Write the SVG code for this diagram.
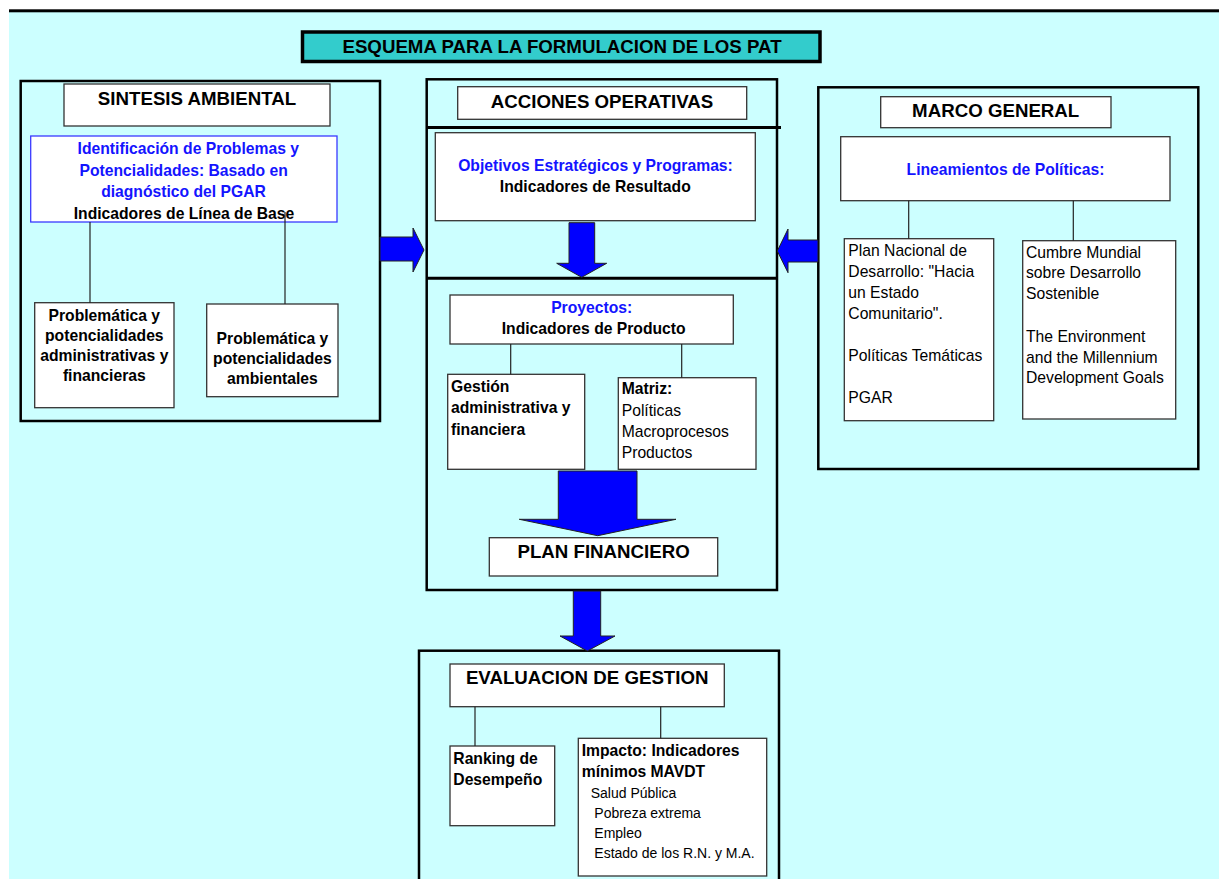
<svg xmlns="http://www.w3.org/2000/svg" width="1219" height="879" viewBox="0 0 1219 879">
<style>
.panel{fill:none;stroke:#000;stroke-width:2.5}
.box{fill:#fff;stroke:#333;stroke-width:1.3}
.bbox{fill:#fff;stroke:#3a3aff;stroke-width:1.3}
.h{font-family:"Liberation Sans",Arial,sans-serif;font-weight:bold;font-size:18.7px;fill:#000}
.b{font-family:"Liberation Sans",Arial,sans-serif;font-weight:bold;font-size:15.7px;fill:#000}
.r{font-family:"Liberation Sans",Arial,sans-serif;font-size:15.7px;fill:#000}
.s{font-family:"Liberation Sans",Arial,sans-serif;font-size:14px;fill:#000}
.blue{fill:#1414ff}
.c{text-anchor:middle}
.arrow{fill:#0000ff;stroke:#222;stroke-width:1}
.ln{stroke:#222;stroke-width:1.2;fill:none}
</style>
<rect x="0" y="0" width="1219" height="879" fill="#fff"/>
<rect x="9" y="12" width="1210" height="867" fill="#ccffff"/>
<rect x="9" y="9.3" width="1210" height="3" fill="#000"/>

<g id="title">
<rect x="302.5" y="32" width="517.5" height="29.5" fill="#33cccc" stroke="#000" stroke-width="3.5"/>
<text class="h c" x="562" y="52.5">ESQUEMA PARA LA FORMULACION DE LOS PAT</text>
</g>

<g id="sintesis-ambiental">
<rect class="panel" x="20.7" y="81" width="359.3" height="340"/>
<rect class="box" x="64" y="84" width="266" height="42"/>
<text class="h c" x="197" y="105">SINTESIS AMBIENTAL</text>
</g>
<g id="identificacion">
<rect class="bbox" x="30.7" y="136" width="306.3" height="86"/>
<text class="b c blue" x="188.3" y="154">Identificación de Problemas y</text>
<text class="b c blue" x="183.7" y="175.7">Potencialidades: Basado en</text>
<text class="b c blue" x="183.5" y="197.3">diagnóstico del PGAR</text>
<text class="b c" x="184" y="219">Indicadores de Línea de Base</text>
</g>
<g id="problematica-admin">
<rect class="box" x="34.7" y="302.7" width="139.3" height="105"/>
<text class="b c" x="104.3" y="320.7">Problemática y</text>
<text class="b c" x="104.3" y="340.7">potencialidades</text>
<text class="b c" x="104.3" y="360.7">administrativas y</text>
<text class="b c" x="104.3" y="380.7">financieras</text>
</g>
<g id="problematica-amb">
<rect class="box" x="206.7" y="304" width="131.3" height="92.7"/>
<text class="b c" x="272.4" y="344">Problemática y</text>
<text class="b c" x="272.4" y="364">potencialidades</text>
<text class="b c" x="272.4" y="384">ambientales</text>
</g>

<g id="acciones-operativas">
<rect class="panel" x="426.7" y="79.3" width="350.3" height="510.7"/>
<line x1="426.7" y1="127.5" x2="781" y2="127.5" stroke="#000" stroke-width="3"/>
<line x1="426.7" y1="278.3" x2="777" y2="278.3" stroke="#000" stroke-width="3"/>
<rect class="box" x="457.7" y="86.7" width="289" height="32.6"/>
<text class="h c" x="602" y="108.3">ACCIONES OPERATIVAS</text>
</g>
<g id="objetivos">
<rect class="box" x="435.3" y="132.7" width="320" height="88"/>
<text class="b c blue" x="595.5" y="170.7">Objetivos Estratégicos y Programas:</text>
<text class="b c" x="595.3" y="192">Indicadores de Resultado</text>
</g>
<g id="proyectos">
<rect class="box" x="450" y="295" width="283.3" height="49"/>
<text class="b c blue" x="591.7" y="312.7">Proyectos:</text>
<text class="b c" x="593.7" y="334.3">Indicadores de Producto</text>
</g>
<g id="gestion">
<rect class="box" x="447.7" y="374.3" width="137" height="95"/>
<text class="b" x="451" y="391.7">Gestión</text>
<text class="b" x="451" y="413.3">administrativa y</text>
<text class="b" x="451" y="435">financiera</text>
</g>
<g id="matriz">
<rect class="box" x="618.3" y="377.7" width="137.7" height="91.6"/>
<text class="b" x="621.7" y="394.3">Matriz:</text>
<text class="r" x="621.7" y="416">Políticas</text>
<text class="r" x="621.7" y="436.7">Macroprocesos</text>
<text class="r" x="621.7" y="457.7">Productos</text>
</g>
<g id="plan-financiero">
<rect class="box" x="489.3" y="537.7" width="228.4" height="38.3"/>
<text class="h c" x="603.6" y="558.3">PLAN FINANCIERO</text>
</g>

<g id="marco-general">
<rect class="panel" x="818.3" y="87.3" width="380" height="381.7"/>
<rect class="box" x="880.7" y="96.7" width="230.3" height="31"/>
<text class="h c" x="995.7" y="117.3">MARCO GENERAL</text>
</g>
<g id="lineamientos">
<rect class="box" x="840.7" y="136.7" width="329.3" height="64"/>
<text class="b c blue" x="1005.5" y="175">Lineamientos de Políticas:</text>
</g>
<g id="plan-nacional">
<rect class="box" x="844.3" y="238.7" width="149.4" height="182"/>
<text class="r" x="848.3" y="256">Plan Nacional de</text>
<text class="r" x="848.3" y="277">Desarrollo: "Hacia</text>
<text class="r" x="848.3" y="298">un Estado</text>
<text class="r" x="848.3" y="319">Comunitario".</text>
<text class="r" x="848.3" y="361">Políticas Temáticas</text>
<text class="r" x="848.3" y="403">PGAR</text>
</g>
<g id="cumbre">
<rect class="box" x="1022.7" y="240.7" width="153" height="178.3"/>
<text class="r" x="1026" y="257.7">Cumbre Mundial</text>
<text class="r" x="1026" y="278.4">sobre Desarrollo</text>
<text class="r" x="1026" y="299">Sostenible</text>
<text class="r" x="1026" y="341.5">The Environment</text>
<text class="r" x="1026" y="362.5">and the Millennium</text>
<text class="r" x="1026" y="383.3">Development Goals</text>
</g>

<g id="evaluacion-gestion">
<rect class="panel" x="419" y="650.7" width="360" height="240"/>
<rect class="box" x="450" y="664" width="274.3" height="42.7"/>
<text class="h c" x="587.2" y="684.3">EVALUACION DE GESTION</text>
</g>
<g id="ranking">
<rect class="box" x="450" y="746" width="104.7" height="79.7"/>
<text class="b" x="453.3" y="764">Ranking de</text>
<text class="b" x="453.3" y="785">Desempeño</text>
</g>
<g id="impacto">
<rect class="box" x="578.3" y="738.3" width="188.4" height="137.7"/>
<text class="b" x="581.7" y="755.7">Impacto: Indicadores</text>
<text class="b" x="581.7" y="776.7">mínimos MAVDT</text>
<text class="s" x="590.7" y="798.3">Salud Pública</text>
<text class="s" x="594.3" y="818.3">Pobreza extrema</text>
<text class="s" x="594.3" y="837.7">Empleo</text>
<text class="s" x="594.3" y="857.7">Estado de los R.N. y M.A.</text>
</g>

<g id="connectors">
<line class="ln" x1="90" y1="222" x2="90" y2="302.7"/>
<line class="ln" x1="285" y1="212" x2="285" y2="304"/>
<line class="ln" x1="908.7" y1="200.7" x2="908.7" y2="238.7"/>
<line class="ln" x1="1073.3" y1="200.7" x2="1073.3" y2="240.7"/>
<line class="ln" x1="510.7" y1="344" x2="510.7" y2="374.3"/>
<line class="ln" x1="681.7" y1="344" x2="681.7" y2="377.7"/>
<line class="ln" x1="475" y1="706.7" x2="475" y2="746"/>
<line class="ln" x1="660.7" y1="706.7" x2="660.7" y2="738.3"/>
<polygon class="arrow" points="380,237 413,237 413,228 424,250 413,272 413,261 380,261"/>
<polygon class="arrow" points="818,240 788,240 788,229 777.3,251 788,272.7 788,262 818,262"/>
<polygon class="arrow" points="569,222.7 594.7,222.7 594.7,263.3 606.7,263.3 581.7,277.3 556.7,263.3 569,263.3"/>
<polygon class="arrow" points="558.3,471 637,471 637,519.3 676,519.3 597.7,535.7 519.3,519.3 558.3,519.3"/>
<polygon class="arrow" points="573.3,591 600.7,591 600.7,636 615,636 587.3,651 560,636 573.3,636"/>
</g>
</svg>
